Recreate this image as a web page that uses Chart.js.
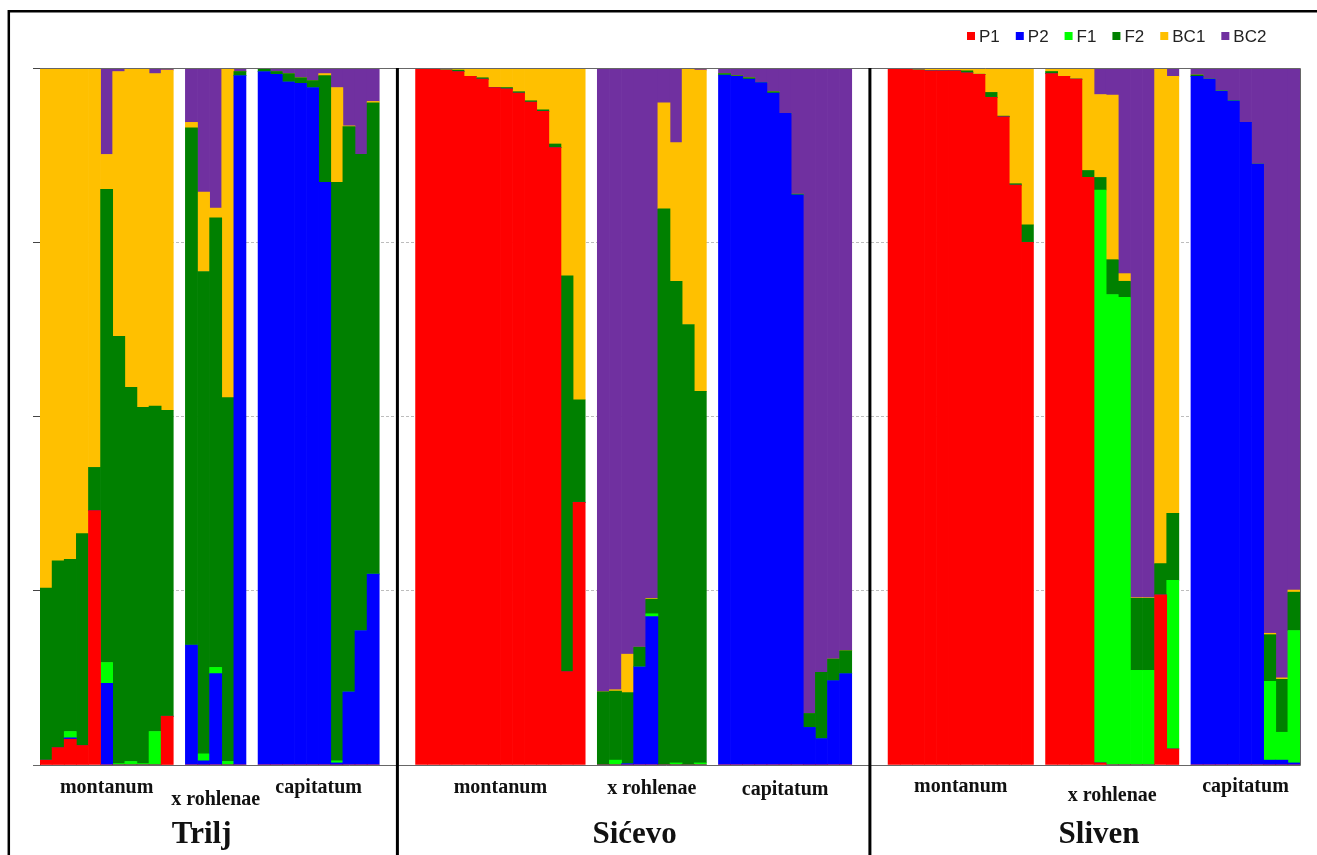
<!DOCTYPE html>
<html>
<head>
<meta charset="utf-8">
<title>Trilj - Sićevo - Sliven</title>
<script src="https://cdn.jsdelivr.net/npm/chart.js@4.4.1/dist/chart.umd.min.js"></script>
<style>
  html, body { margin: 0; padding: 0; background: #fff; }
  #grafica { display: block; }
</style>
</head>
<body>
<canvas id="grafica" width="1317" height="855"></canvas>
<script>
const seriesNames = ["P1", "P2", "F1", "F2", "BC1", "BC2"];
const seriesColors = ["#ff0000", "#0000ff", "#00ff00", "#008000", "#ffc000", "#7030a0"];
const populations = ["Trilj", "Sićevo", "Sliven"];
const taxa = ["montanum", "x rohlenae", "capitatum"];
const yTicks = [0, 25, 50, 75, 100];

// cada fila = un individuo: P1, P2, F1, F2, BC1, BC2 (%)
const triljMontanum = [
  [0.7, 0, 0, 24.7, 74.6, 0],
  [2.5, 0, 0, 26.8, 70.5, 0.2],
  [3.7, 0.2, 0.9, 24.7, 70.3, 0.2],
  [2.8, 0, 0, 30.4, 66.8, 0],
  [36.5, 0, 0, 6.2, 57.3, 0],
  [0, 11.7, 3.0, 67.9, 5.0, 12.4],
  [0, 0, 0.2, 61.3, 38.0, 0.5],
  [0, 0, 0.5, 53.7, 45.7, 0.1],
  [0, 0, 0.2, 51.1, 48.7, 0],
  [0, 0, 4.8, 46.7, 47.7, 0.8],
  [7.0, 0, 0, 43.9, 48.8, 0.3],
];
const triljRohlenae = [
  [0, 17.2, 0, 74.2, 0.8, 7.8],
  [0, 0.6, 1.0, 69.2, 11.4, 17.8],
  [0, 13.1, 0.9, 64.5, 1.4, 20.1],
  [0, 0, 0.5, 52.2, 47.2, 0.1],
  [0, 98.9, 0, 0.6, 0, 0.5],
];
const triljCapitatum = [
  [0, 99.5, 0, 0.4, 0, 0.1],
  [0, 99.1, 0, 0.4, 0, 0.5],
  [0, 98.0, 0, 1.2, 0, 0.8],
  [0, 97.8, 0, 0.8, 0, 1.4],
  [0, 97.2, 0, 1.0, 0, 1.8],
  [0, 83.6, 0, 15.3, 0.3, 0.8],
  [0, 0.3, 0.3, 83.0, 13.6, 2.8],
  [0, 10.5, 0, 81.1, 0.1, 8.3],
  [0, 19.3, 0, 68.3, 0, 12.4],
  [0, 27.4, 0, 67.6, 0.2, 4.8],
];
const sicevoMontanum = [
  [100, 0, 0, 0, 0, 0],
  [99.8, 0, 0, 0, 0.2, 0],
  [99.7, 0, 0, 0, 0.3, 0],
  [99.5, 0, 0, 0.2, 0.3, 0],
  [98.8, 0, 0, 0, 1.2, 0],
  [98.4, 0, 0, 0.2, 1.4, 0],
  [97.2, 0, 0, 0, 2.8, 0],
  [97.0, 0, 0, 0.2, 2.8, 0],
  [96.4, 0, 0, 0.2, 3.4, 0],
  [95.1, 0, 0, 0.2, 4.7, 0],
  [93.8, 0, 0, 0.2, 6.0, 0],
  [88.6, 0, 0, 0.5, 10.9, 0],
  [13.4, 0, 0, 56.8, 29.6, 0.2],
  [37.7, 0, 0, 14.7, 47.6, 0],
];
const sicevoRohlenae = [
  [0, 0, 0, 10.5, 0, 89.5],
  [0, 0, 0.7, 9.9, 0.2, 89.2],
  [0, 0.2, 0, 10.2, 5.5, 84.1],
  [0, 14.1, 0, 2.8, 0, 83.1],
  [0, 21.3, 0.4, 2.1, 0.1, 76.1],
  [0, 0, 0, 79.8, 15.2, 5.0],
  [0, 0, 0.3, 69.1, 19.9, 10.7],
  [0, 0, 0.1, 63.1, 36.8, 0],
  [0, 0, 0.3, 53.3, 46.1, 0.3],
];
const sicevoCapitatum = [
  [0, 99.0, 0, 0.2, 0, 0.8],
  [0, 98.8, 0, 0.1, 0, 1.1],
  [0, 98.4, 0, 0.2, 0, 1.4],
  [0, 97.9, 0, 0, 0, 2.1],
  [0, 96.4, 0, 0.2, 0, 3.4],
  [0, 93.5, 0, 0, 0, 6.5],
  [0, 81.8, 0, 0.1, 0, 18.1],
  [0, 5.4, 0, 2.0, 0, 92.6],
  [0, 3.8, 0, 9.5, 0, 86.7],
  [0, 12.1, 0, 3.1, 0, 84.8],
  [0, 13.1, 0, 3.3, 0, 83.6],
];
const slivenMontanum = [
  [100, 0, 0, 0, 0, 0],
  [99.9, 0, 0, 0, 0.1, 0],
  [99.7, 0, 0, 0, 0.3, 0],
  [99.6, 0, 0, 0, 0.4, 0],
  [99.6, 0, 0, 0, 0.4, 0],
  [99.6, 0, 0, 0, 0.4, 0],
  [99.3, 0, 0, 0.3, 0.4, 0],
  [99.1, 0, 0, 0, 0.9, 0],
  [95.8, 0, 0, 0.7, 3.5, 0],
  [93.0, 0, 0, 0.1, 6.9, 0],
  [83.2, 0, 0, 0.2, 16.6, 0],
  [75.0, 0, 0, 2.5, 22.5, 0],
];
const slivenRohlenae = [
  [99.2, 0, 0, 0.3, 0.5, 0],
  [98.8, 0, 0, 0, 1.2, 0],
  [98.4, 0, 0, 0, 1.6, 0],
  [84.3, 0, 0, 1.0, 14.7, 0],
  [0.3, 0, 82.2, 1.8, 11.9, 3.8],
  [0, 0, 67.5, 5.0, 23.6, 3.9],
  [0, 0, 67.1, 2.3, 1.1, 29.5],
  [0, 0, 13.6, 10.3, 0.1, 76.0],
  [0, 0, 13.6, 10.3, 0.1, 76.0],
  [24.4, 0, 0, 4.5, 71.1, 0],
  [2.3, 0, 24.2, 9.6, 62.7, 1.2],
];
const slivenCapitatum = [
  [0, 98.8, 0, 0.2, 0, 1.0],
  [0, 98.4, 0, 0, 0, 1.6],
  [0, 96.7, 0, 0, 0, 3.3],
  [0, 95.3, 0, 0, 0, 4.7],
  [0, 92.2, 0, 0, 0, 7.8],
  [0, 86.2, 0, 0, 0, 13.8],
  [0, 0.7, 11.3, 6.7, 0.2, 81.1],
  [0, 0.7, 4.0, 7.6, 0.2, 87.5],
  [0, 0.3, 19.0, 5.5, 0.3, 74.9],
];

const grupos = [
  [triljMontanum, triljRohlenae, triljCapitatum],
  [sicevoMontanum, sicevoRohlenae, sicevoCapitatum],
  [slivenMontanum, slivenRohlenae, slivenCapitatum],
];

// solo maquetacion (px): lineas base de los textos de abajo
const taxonBaseline = [[793, 805, 793], [793, 794, 795], [792, 801, 792]];
const popBaseline = 843;
const popShift = [-8, 1, 5];

// armar categorias: 1 hueco entre taxones, 3 huecos entre poblaciones
const labels = [];
const filas = [];
const rangos = [];
const separadores = [];
grupos.forEach((pop, p) => {
  if (p > 0) {
    for (let g = 0; g < 3; g++) { labels.push(""); filas.push(null); }
    separadores.push(filas.length - 2);
  }
  const inicio = filas.length;
  const taxaRangos = [];
  pop.forEach((individuos, t) => {
    if (t > 0) { labels.push(""); filas.push(null); }
    const start = filas.length;
    individuos.forEach((fila, i) => {
      labels.push(`${populations[p]} ${taxa[t]} ${i + 1}`);
      filas.push(fila);
    });
    taxaRangos.push([start, filas.length - 1]);
  });
  rangos.push({ inicio: inicio, fin: filas.length - 1, taxa: taxaRangos });
});

const datasets = seriesNames.map((name, s) => ({
  label: name,
  data: filas.map((f) => (f ? f[s] : null)),
  backgroundColor: seriesColors[s],
  borderWidth: 0,
  barPercentage: 1,
  categoryPercentage: 1,
}));

const SERIF = "'Liberation Serif', 'Times New Roman', serif";
const SANS = "'Liberation Sans', Arial, sans-serif";

const dibujarExtras = {
  id: "dibujarExtras",
  afterDraw(chart) {
    const { ctx, chartArea, scales } = chart;
    const x = scales.x;
    const { left, right, top, bottom } = chartArea;
    ctx.save();

    // marco del area de grafica
    ctx.strokeStyle = "#666";
    ctx.lineWidth = 1;
    ctx.beginPath();
    ctx.moveTo(left, top + 0.5);
    ctx.lineTo(right + 0.5, top + 0.5);
    ctx.lineTo(right + 0.5, bottom + 0.5);
    ctx.lineTo(left - 7, bottom + 0.5);
    ctx.stroke();

    // marco negro exterior
    ctx.strokeStyle = "#000";
    ctx.lineWidth = 2.5;
    ctx.beginPath();
    ctx.moveTo(8.8, 855);
    ctx.lineTo(8.8, 11.3);
    ctx.lineTo(1317, 11.3);
    ctx.stroke();

    // separadores entre poblaciones
    ctx.lineWidth = 3;
    separadores.forEach((idx) => {
      const px = x.getPixelForValue(idx);
      ctx.beginPath();
      ctx.moveTo(px, top);
      ctx.lineTo(px, 855);
      ctx.stroke();
    });

    // etiquetas de taxones y poblaciones
    ctx.fillStyle = "#111";
    ctx.textAlign = "center";
    ctx.textBaseline = "alphabetic";
    rangos.forEach((r, p) => {
      ctx.font = `bold 20px ${SERIF}`;
      r.taxa.forEach(([a, b], t) => {
        const cx = (x.getPixelForValue(a) + x.getPixelForValue(b)) / 2;
        ctx.fillText(taxa[t], cx, taxonBaseline[p][t]);
      });
      ctx.font = `bold 31px ${SERIF}`;
      const cx = (x.getPixelForValue(r.inicio) + x.getPixelForValue(r.fin)) / 2 + popShift[p];
      ctx.fillText(populations[p], cx, popBaseline);
    });

    // leyenda
    ctx.font = `17px ${SANS}`;
    ctx.textAlign = "left";
    let lx = 967;
    seriesNames.forEach((name, s) => {
      ctx.fillStyle = seriesColors[s];
      ctx.fillRect(lx, 32, 8, 8);
      ctx.fillStyle = "#222";
      ctx.fillText(name, lx + 12, 42.3);
      lx += 12 + ctx.measureText(name).width + 16;
    });
    ctx.restore();
  },
};

const grafica = document.getElementById("grafica").getContext("2d");
const myChart = new Chart(grafica, {
  type: "bar",
  data: { labels: labels, datasets: datasets },
  options: {
    responsive: false,
    animation: false,
    devicePixelRatio: 1,
    layout: { padding: { top: 68, left: 33, right: 17, bottom: 90 } },
    plugins: { legend: { display: false }, tooltip: { enabled: false } },
    scales: {
      x: { stacked: true, display: false },
      y: {
        stacked: true,
        min: 0,
        max: 100,
        afterBuildTicks: (axis) => { axis.ticks = yTicks.map((v) => ({ value: v })); },
        ticks: { display: false },
        grid: { color: "#bdbdbd", tickColor: "#444", tickLength: 7, lineWidth: 1 },
        border: { color: "#444", width: 1, dash: [3, 2] },
      },
    },
  },
  plugins: [dibujarExtras],
});
</script>
</body>
</html>
